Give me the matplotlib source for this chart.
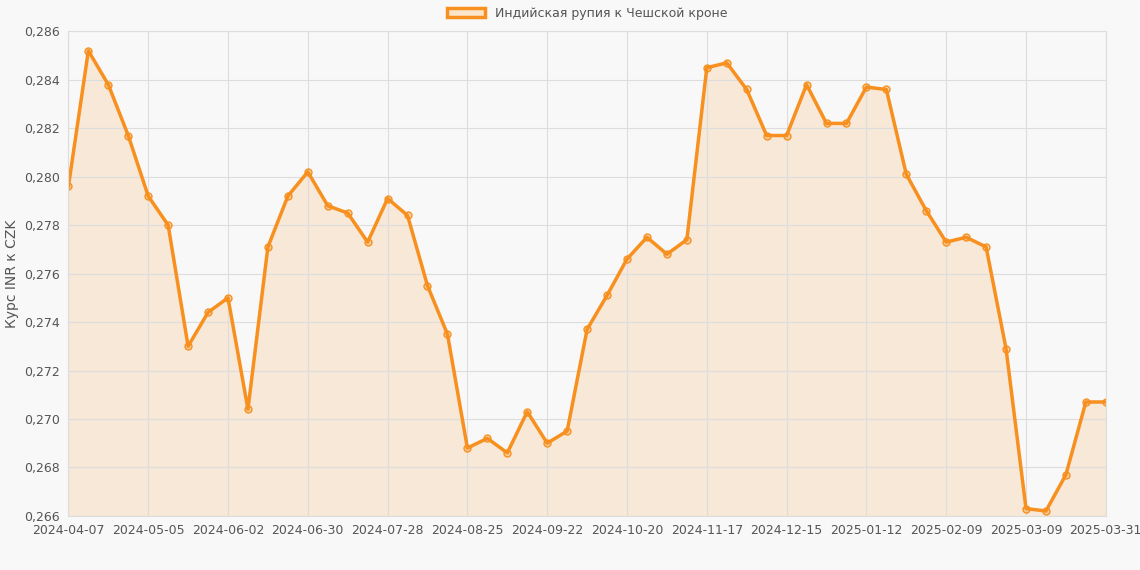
import matplotlib.pyplot as plt
from matplotlib.patches import Patch

values = [0.2796, 0.2852, 0.2838, 0.2817, 0.2792, 0.2780, 0.2730, 0.2744, 0.2750, 0.2704,
          0.2771, 0.2792, 0.2802, 0.2788, 0.2785, 0.2773, 0.2791, 0.2784, 0.2755, 0.2735,
          0.2688, 0.2692, 0.2686, 0.2703, 0.2690, 0.2695, 0.2737, 0.2751, 0.2766, 0.2775,
          0.2768, 0.2774, 0.2845, 0.2847, 0.2836, 0.2817, 0.2817, 0.2838, 0.2822, 0.2822,
          0.2837, 0.2836, 0.2801, 0.2786, 0.2773, 0.2775, 0.2771, 0.2729, 0.2663, 0.2662,
          0.2677, 0.2707, 0.2707]
tick_pos = [0, 4, 8, 12, 16, 20, 24, 28, 32, 36, 40, 44, 48, 52]
tick_labels = ["2024-04-07", "2024-05-05", "2024-06-02", "2024-06-30", "2024-07-28",
               "2024-08-25", "2024-09-22", "2024-10-20", "2024-11-17", "2024-12-15",
               "2025-01-12", "2025-02-09", "2025-03-09", "2025-03-31"]
x = list(range(len(values)))

color = "#f7901e"
fig = plt.figure(figsize=(11.4, 5.7), dpi=100)
fig.patch.set_facecolor("#f8f8f8")
ax = fig.add_axes([0.06, 0.095, 0.91, 0.85])
ax.set_facecolor("#f8f8f8")
ax.fill_between(x, values, 0.266, color=color, alpha=0.15, linewidth=0)
ax.plot(x, values, color=color, lw=2.5, marker="o", ms=5,
        markerfacecolor=(0.97, 0.56, 0.12, 0.3), markeredgecolor=color)
ax.set_xlim(0, len(values) - 1)
ax.set_ylim(0.266, 0.286)
ax.set_yticks([0.266 + 0.002 * i for i in range(11)])
ax.yaxis.set_major_formatter(plt.FuncFormatter(lambda v, p: f"{v:.3f}".replace(".", ",")))
ax.set_xticks(tick_pos)
ax.set_xticklabels(tick_labels)
ax.grid(True, color="#dddddd", lw=0.8)
for s in ax.spines.values():
    s.set_color("#dddddd")
ax.tick_params(colors="#555555", labelsize=9, length=0, pad=6)
ax.set_ylabel("Курс INR к CZK", color="#555555", fontsize=10)
handle = Patch(facecolor="#fbe6cc", edgecolor=color, linewidth=2.5,
               label="Индийская рупия к Чешской кроне")
ax.legend(handles=[handle], loc="lower center", bbox_to_anchor=(0.5, 1.0), frameon=False,
          fontsize=9, handlelength=3, labelcolor="#555555")
fig.savefig("out.png", facecolor=fig.get_facecolor())
